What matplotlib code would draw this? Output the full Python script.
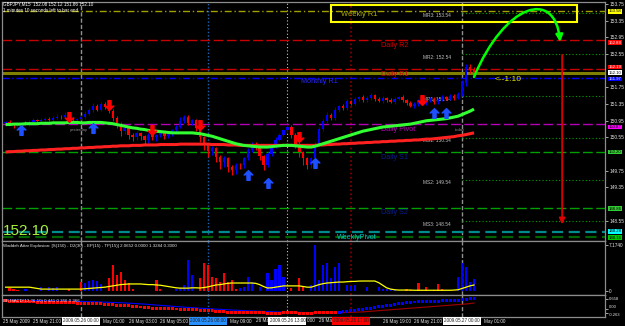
import numpy as np
import matplotlib
matplotlib.use('Agg')
import matplotlib.pyplot as plt
from matplotlib.path import Path
from matplotlib.patches import FancyArrowPatch, Rectangle
from matplotlib.ticker import FormatStrFormatter
from matplotlib.transforms import blended_transform_factory as blend

plt.rcParams['font.family'] = ['Liberation Sans', 'DejaVu Sans']

W, H = 625, 326

# GBPJPY M15, bar 0 = 2009.05.26 00:00
bars = np.arange(-19, 100)
first_open = 150.90
close = [150.92, 150.88, 150.84, 150.86, 150.90, 150.87, 150.93, 150.96, 150.94, 150.98,
         151.00, 150.97, 151.02, 151.05, 151.03, 151.08, 151.02, 150.96, 150.99,
         151.04, 151.12, 151.20, 151.30, 151.22, 151.35, 151.28, 151.18,
         151.02, 150.88, 150.70, 150.78, 150.62, 150.55, 150.66, 150.58, 150.50, 150.62,
         150.55, 150.60, 150.68, 150.58, 150.64, 150.72, 150.80, 150.95, 151.05, 150.90, 150.96, 150.78,
         150.55, 150.38, 150.22, 150.30, 150.08, 149.95, 150.05, 149.85, 149.78, 149.90, 149.88,
         150.05, 150.25, 150.40, 150.30, 150.10, 149.90, 150.15, 150.35, 150.50, 150.62, 150.72, 150.80,
         150.62, 150.40, 150.20, 150.05, 149.90, 150.05,
         150.40, 150.75, 150.95, 151.10, 151.02, 151.22, 151.30, 151.25, 151.42,
         151.36, 151.48, 151.52, 151.44, 151.50, 151.56, 151.48, 151.42, 151.50, 151.46,
         151.40, 151.48, 151.52, 151.45, 151.38, 151.30, 151.36, 151.44, 151.38, 151.42,
         151.48, 151.40, 151.46, 151.52, 151.48, 151.55, 151.50, 151.58,
         151.85, 152.25, 152.18, 152.10]
# wick lengths in hundredths of a yen
wick_up = [3, 4, 2, 5, 3, 4, 3, 6, 3, 4, 5, 3, 4, 6, 3, 8, 4, 3, 3,
           5, 6, 5, 8, 6, 5, 4, 4,
           6, 5, 4, 5, 3, 4, 5, 3, 4, 3,
           4, 3, 4, 3, 5, 4, 6, 8, 5, 4, 3, 4,
           4, 3, 4, 5, 3, 4, 5, 3, 4, 3, 4,
           3, 4, 3, 5, 4, 3, 5, 4, 6, 3, 4, 5,
           4, 3, 5, 3, 4, 3,
           5, 6, 4, 5, 3, 6, 4, 5, 6,
           4, 5, 3, 4, 5, 6, 3, 4, 5, 3, 4, 5, 3, 4, 3, 4, 5, 4, 3, 4, 5, 3, 4, 5, 3, 4, 3, 5,
           8, 6, 5, 6]
wick_dn = [4, 3, 6, 3, 5, 3, 4, 3, 5, 3, 4, 3, 5, 3, 4, 3, 4, 6, 3,
           3, 4, 3, 5, 4, 3, 4, 5,
           8, 10, 12, 6, 10, 8, 6, 10, 12, 8,
           6, 8, 5, 6, 4, 5, 4, 3, 5, 4, 6, 8,
           10, 12, 14, 8, 12, 15, 10, 14, 12, 10, 8,
           6, 5, 4, 5, 8, 12, 5, 4, 5, 4, 3, 4,
           8, 10, 12, 15, 10, 8,
           6, 5, 4, 6, 5, 4, 5, 4, 3,
           4, 3, 5, 4, 3, 4, 5, 3, 4, 5, 3, 4, 3, 5, 4, 3, 4, 5, 3, 4, 3, 4, 5, 3, 4, 3, 4, 3,
           4, 6, 8, 10]
ma_fast = [150.86, 150.86, 150.87, 150.87, 150.87, 150.88, 150.88, 150.88, 150.88, 150.89,
           150.89, 150.89, 150.90, 150.90, 150.90, 150.90, 150.91, 150.91, 150.91,
           150.90, 150.90, 150.91, 150.91, 150.91, 150.91, 150.90, 150.89, 150.88, 150.86,
           150.84, 150.82, 150.80, 150.78, 150.77, 150.75, 150.74, 150.72,
           150.71, 150.70, 150.69, 150.68, 150.67, 150.66, 150.66, 150.66, 150.66, 150.66,
           150.66, 150.65, 150.64, 150.62, 150.60, 150.58, 150.55, 150.52,
           150.49, 150.46, 150.43, 150.40, 150.38, 150.36, 150.35, 150.34, 150.33, 150.32,
           150.32, 150.32, 150.33, 150.34, 150.35, 150.36, 150.36, 150.36,
           150.35, 150.34, 150.33, 150.32, 150.32, 150.34, 150.37, 150.40, 150.43, 150.46, 150.49, 150.52,
           150.55, 150.58, 150.61, 150.64, 150.67, 150.70, 150.72, 150.74, 150.76, 150.78,
           150.80, 150.81, 150.82, 150.83, 150.84, 150.85, 150.86, 150.87,
           150.89, 150.91, 150.93, 150.95, 150.96, 150.97, 150.98, 150.99, 151.00, 151.02,
           151.04, 151.06, 151.10, 151.14, 151.18, 151.23]
ma_slow = [150.20, 150.21, 150.21, 150.22, 150.22, 150.23, 150.23, 150.24, 150.24, 150.25,
           150.25, 150.26, 150.26, 150.27, 150.27, 150.28, 150.28, 150.29, 150.29,
           150.30, 150.30, 150.31, 150.31, 150.32, 150.32, 150.33, 150.33, 150.34, 150.34,
           150.35, 150.35, 150.35, 150.36, 150.36, 150.36, 150.37, 150.37,
           150.37, 150.37, 150.38, 150.38, 150.38, 150.38, 150.38, 150.39, 150.39, 150.39,
           150.39, 150.39, 150.39, 150.39, 150.39, 150.38, 150.38, 150.38,
           150.38, 150.37, 150.37, 150.37, 150.36, 150.36, 150.36, 150.36, 150.36, 150.36,
           150.36, 150.36, 150.36, 150.36, 150.36, 150.36, 150.36, 150.36,
           150.36, 150.36, 150.36, 150.36, 150.36, 150.36, 150.37, 150.37, 150.38, 150.38, 150.39, 150.39,
           150.40, 150.40, 150.41, 150.41, 150.42, 150.42, 150.43, 150.43, 150.44, 150.44,
           150.45, 150.45, 150.46, 150.46, 150.47, 150.47, 150.48, 150.48,
           150.49, 150.49, 150.50, 150.51, 150.51, 150.52, 150.53, 150.54, 150.55, 150.56,
           150.57, 150.59, 150.60, 150.62, 150.64, 150.66]

arrow_up_bar = [-15, 3, 42, 47, 59, 89, 92]
arrow_up_price = [150.73, 150.78, 149.65, 149.46, 149.94, 151.14, 151.14]
arrow_dn_bar = [-3, 7, 18, 30, 55, 86]
arrow_dn_price = [151.04, 151.33, 150.73, 150.85, 150.56, 151.45]

daily_names = ['Daily R2', 'Daily R1', 'Daily Pivot', 'Daily S1', 'Daily S2']
daily_vals = [152.88, 152.19, 150.87, 150.20, 148.86]
mid_names = ['MR3', 'MR2', 'MR1', 'MS1', 'MS2', 'MS3']
mid_vals = [153.54, 152.54, 151.54, 150.54, 149.54, 148.54]
weekly_r1 = 153.58
weekly_pivot = 148.28
weekly_s = 148.16
monthly_r1 = 151.97
bid = 152.10

# price scale labels (those hidden behind the level boxes are left out)
price_ticks = [153.75, 153.35, 152.95, 152.55, 151.75, 151.35, 150.95, 150.55,
               149.75, 149.35, 148.55]

box_vals = [153.58, 152.88, 152.19, 152.10, 151.97, 150.87, 150.20, 148.86, 148.28, 148.16]
box_fc = ['#ffff00', '#ff0000', '#ff0000', '#ffffff', '#0000ff', '#ff00ff',
          '#32cd32', '#32cd32', '#00ffff', '#00c800']
box_tc = ['black', 'white', 'white', 'black', 'white', 'black',
          'black', 'black', 'black', 'black']
# small vertical nudges (price units) so the stacked boxes stay readable
box_shift = [0, -0.06, 0.05, 0, -0.02, -0.07, 0, -0.02, 0.02, -0.01]

# Waddah Attar Explosion
wae_up = [0, 0, 0, 0, 0, 0.3, 0, 0, 0, 0.6, 0, 0.6, 0.45, 0.6, 0, 0, 0, 0, 0,
          0, 1.25, 1.56, 1.7, 1.56, 1.1, 0, 0, 0, 0, 0, 0, 0, 0, 0, 0, 0, 0,
          0, 0, 0, 0, 0, 0, 0.3, 0.5, 0.94, 4.8, 2.5, 0, 0, 0, 0, 0, 0, 0,
          0, 0, 0, 0, 0.47, 0.6, 2.2, 1.4, 0, 0.6, 0, 2.8, 1.7, 3.4, 4.05, 2.2, 0, 0,
          0, 0, 0, 0, 0.94, 7.17, 1.7, 4.05, 4.4, 2.0, 3.7, 4.4,
          0, 0.94, 0.8, 0.94, 0, 0, 0.6, 0, 0, 0.6, 0.3, 0.3, 0.3, 0.3, 0, 0, 0, 0,
          0, 0, 0, 0, 0, 0, 0, 0, 0, 0, 0, 2.2, 4.4, 3.7, 1.4, 1.9]
wae_dn = [0, 0.47, 0.3, 0.2, 0, 0, 0, 0, 0, 0, 0, 0, 0, 0, 0, 0, 0.3, 0, 0,
          1.4, 0, 0, 0, 0, 0, 0, 2.0, 4.05, 2.5, 3.0, 1.7, 1.25, 0.3, 0, 0, 0, 0,
          0, 1.7, 0.3, 0, 0, 0, 0, 0, 0, 0, 0, 0, 2.0, 4.4, 4.05, 2.2, 2.0, 1.4,
          2.8, 1.4, 1.7, 0.3, 0, 0, 0, 0, 0, 0, 0, 0, 0, 0, 0, 0, 0, 0.47,
          0, 2.0, 0.6, 0, 0, 0, 0, 0, 0, 0, 0, 0,
          0, 0, 0, 0, 0, 0, 0, 0, 0, 0, 0, 0, 0, 0, 0, 0, 0.3, 0.15,
          0, 1.25, 0.15, 0.6, 0, 0.15, 1.1, 0.3, 0, 0, 0, 0, 0, 0, 0, 0]
wae_line = [0.6, 0.6, 0.6, 0.6, 0.6, 0.6, 0.6, 0.5, 0.4, 0.3, 0.3, 0.3, 0.3, 0.3, 0.3, 0.3, 0.3, 0.3, 0.3,
            0.3, 0.35, 0.4, 0.45, 0.5, 0.55, 0.6, 0.7, 0.8, 0.9, 1.0, 1.05, 1.1, 1.1, 1.1, 1.1, 1.05, 1.0,
            1.0, 0.95, 0.9, 0.8, 0.7, 0.6, 0.5, 0.45, 0.45, 0.45, 0.5, 0.5, 0.47, 0.55, 0.65, 0.8, 0.94, 1.0,
            1.1, 1.2, 1.25, 1.25, 1.25, 1.25, 1.25, 1.25, 1.2, 1.0, 0.7, 0.47, 0.5, 0.6, 0.7, 0.8, 0.8, 0.8,
            0.8, 0.8, 0.7, 0.6, 0.6, 0.8, 1.0, 1.15, 1.25, 1.3, 1.35, 1.4,
            1.4, 1.45, 1.5, 1.5, 1.55, 1.56, 1.56, 1.56, 1.56, 1.3, 0.9, 0.5, 0.3, 0.2, 0.15, 0.15, 0.15, 0.15,
            0.12, 0.12, 0.12, 0.12, 0.12, 0.12, 0.12, 0.12, 0.12, 0.12, 0.15, 0.2, 0.4, 0.6, 0.8, 0.94]

# BB MACD
macd_main = [0.53, 0.52, 0.51, 0.50, 0.49, 0.48, 0.47, 0.46, 0.45, 0.45, 0.44, 0.43, 0.43, 0.42, 0.41, 0.41, 0.40, 0.40, 0.39,
             0.39, 0.38, 0.37, 0.36, 0.35, 0.34, 0.32, 0.30, 0.28, 0.26, 0.24, 0.22, 0.20, 0.18, 0.15, 0.13, 0.10, 0.08,
             0.06, 0.05, 0.04, 0.03, 0.02, 0.01, 0.00, -0.01, -0.02, -0.03, -0.04, -0.05, -0.07, -0.08, -0.10, -0.12, -0.14, -0.16,
             -0.18, -0.20, -0.21, -0.22, -0.23, -0.24, -0.25, -0.25, -0.26, -0.26, -0.26, -0.27, -0.27, -0.27, -0.27, -0.26, -0.26, -0.26,
             -0.26, -0.27, -0.27, -0.27, -0.27, -0.26, -0.25, -0.25, -0.25, -0.25, -0.24, -0.22,
             -0.18, -0.15, -0.12, -0.09, -0.06, -0.02, 0.02, 0.06, 0.10, 0.14, 0.18, 0.22, 0.26, 0.30, 0.34, 0.38, 0.42, 0.44,
             0.46, 0.47, 0.48, 0.49, 0.50, 0.51, 0.52, 0.53, 0.54, 0.55, 0.56, 0.57, 0.60, 0.64, 0.68, 0.72]
macd_sig = [0.59, 0.59, 0.58, 0.58, 0.57, 0.57, 0.56, 0.56, 0.55, 0.55, 0.54, 0.54, 0.53, 0.53, 0.52, 0.52, 0.51, 0.51, 0.50,
            0.50, 0.49, 0.48, 0.48, 0.47, 0.46, 0.45, 0.44, 0.43, 0.42, 0.41, 0.40, 0.38, 0.37, 0.35, 0.34, 0.32, 0.30,
            0.28, 0.26, 0.24, 0.22, 0.20, 0.18, 0.16, 0.14, 0.12, 0.10, 0.09, 0.07, 0.05, 0.04, 0.02, 0.01, -0.01, -0.02,
            -0.04, -0.05, -0.07, -0.08, -0.09, -0.11, -0.12, -0.13, -0.14, -0.15, -0.16, -0.17, -0.18, -0.19, -0.20, -0.20, -0.21, -0.21,
            -0.22, -0.22, -0.23, -0.23, -0.24, -0.24, -0.24, -0.24, -0.24, -0.24, -0.24, -0.24,
            -0.24, -0.23, -0.22, -0.21, -0.20, -0.19, -0.17, -0.15, -0.13, -0.11, -0.09, -0.07, -0.05, -0.03, -0.01, 0.01, 0.03, 0.05,
            0.07, 0.09, 0.11, 0.13, 0.15, 0.17, 0.19, 0.21, 0.23, 0.25, 0.27, 0.29, 0.31, 0.33, 0.36, 0.39]

# time scale: visible parts of the labels (the highlighted boxes hide the rest)
time_ticks = [-19.6, -12, 5.5, 12, 20, 37.5, 44, 57, 60, 76, 84, 101.5]
time_labels = ['25 May 2009', '25 May 21:00', 'May 01:00', '26 May 03:00', '26 May 05:00',
               'May 09:00', '26 Ma', '0:00', '26 Ma', '26 May 19:00', '26 May 21:00', 'May 01:00']
sep_ticks = [0, 32, 52, 68, 96]
sep_labels = ['2009.05.26 00:00', '2009.05.26 08:00', '2009.05.26 13:00',
              '2009.05.26 17:00', '2009.05.27 00:00']
sep_fc = ['#ffffff', '#2890ff', '#ffffff', '#ff0000', '#ffffff']


def box(top, bottom, left=2, right=605):
    return [left / W, 1 - bottom / H, (right - left) / W, (bottom - top) / H]


fig = plt.figure(figsize=(W / 100, H / 100), dpi=100, facecolor='black')
ax = fig.add_axes(box(2, 241))
ax_w = fig.add_axes(box(241, 295), sharex=ax)
ax_m = fig.add_axes(box(295, 317), sharex=ax)
for a in (ax, ax_w, ax_m):
    a.set_facecolor('black')
    for s in a.spines.values():
        s.set_color('#8c8c8c')
        s.set_linewidth(0.9)
    a.tick_params(axis='x', bottom=False, labelbottom=False)
    a.yaxis.tick_right()
    a.tick_params(axis='y', colors='#e6e6e6', labelsize=3.4, length=2, width=0.5, pad=1)
    # separators / session lines
    a.axvline(0, color='#909090', lw=1, ls=(0, (3, 1.5)), zorder=1)
    a.axvline(96, color='#909090', lw=1, ls=(0, (3, 1.5)), zorder=1)
    a.axvline(32, color='#1e64b4', lw=1, ls=(0, (1, 1.5)), zorder=1)
    a.axvline(52, color='#c8c8c8', lw=0.8, ls=(0, (1, 2)), zorder=1)
    a.axvline(68, color='#8c0000', lw=1.2, ls=(0, (1, 1.5)), zorder=1)

ax.set_xlim(-19.9, 132.0)
ax.set_ylim(148.067, 153.798)
ax.set_yticks(price_ticks)
ax.yaxis.set_major_formatter(FormatStrFormatter('%.2f'))

# level lines
ax.axhline(weekly_r1, color='#a0a000', lw=1, ls=(0, (5, 2, 1, 2)), zorder=2)
line_cols = ['#c80000', '#c80000', '#b400b4', '#00a000', '#00a000']
for v, lc in zip(daily_vals, line_cols):
    ax.axhline(v, color=lc, lw=1, ls=(0, (7, 2.5)), zorder=2)
ax.axhline(bid, color='#808000', lw=2.2, zorder=2)
ax.axhline(monthly_r1, color='#0000ff', lw=1, ls=(0, (5, 2, 1, 2)), zorder=2)
ax.axhline(weekly_pivot, color='#008c8c', lw=1.6, ls=(0, (5, 2.5)), zorder=2)
ax.axhline(weekly_s, color='#006400', lw=1.6, ls=(0, (5, 2.5)), zorder=2)
ax.hlines(mid_vals, 96, 132, colors='#00a000', lw=0.8, linestyles=(0, (1, 2)), zorder=2)

# candles
c = np.array(close)
o = np.concatenate([[first_open], c[:-1]])
hi = np.maximum(o, c) + np.array(wick_up) / 100
lo = np.minimum(o, c) - np.array(wick_dn) / 100
col = np.where(c >= o, '#0000ff', '#ff0000')
ax.vlines(bars, lo, hi, colors=col, lw=0.7, zorder=4)
ax.bar(bars, np.maximum(np.abs(c - o), 0.012), bottom=np.minimum(o, c), width=0.6,
       color=col, zorder=4)

ax.plot(bars, ma_slow, color='#ff2020', lw=2.2, zorder=5, solid_capstyle='butt')
ax.plot(bars, ma_fast, color='#32ff32', lw=2.2, zorder=5, solid_capstyle='butt')

up_path = Path([(0, 1), (0.9, 0.1), (0.32, 0.25), (0.32, -1), (-0.32, -1),
                (-0.32, 0.25), (-0.9, 0.1), (0, 1)], closed=True)
dn_path = Path(up_path.vertices * np.array([1, -1]), closed=True)
ax.plot(arrow_up_bar, arrow_up_price, ls='none', marker=up_path, ms=7, color='#1e50ff',
        mec='#1e50ff', zorder=6)
ax.plot(arrow_dn_bar, arrow_dn_price, ls='none', marker=dn_path, ms=7, color='#ff0000',
        mec='#ff0000', zorder=6)

# level labels
txt_cols = ['#d00000', '#d00000', '#c000c0', '#0a1e8c', '#0a1e8c']
for name, v, tc in zip(daily_names, daily_vals, txt_cols):
    ax.text(75.6, v - 0.12, name, color=tc, fontsize=5.2, va='center', zorder=3)
for name, v in zip(mid_names, mid_vals):
    ax.text(86.1, v - 0.07, f'{name}: {v:.2f}', color='#c0c0c0', fontsize=3.5,
            va='center', zorder=3)
ax.text(55.4, monthly_r1 - 0.09, 'Monthly R1', color='#2828ff', fontsize=5.2, va='center', zorder=3)
ax.text(64.5, weekly_pivot - 0.12, 'WeeklyPivot', color='#00c8c8', fontsize=5.2, va='center', zorder=3)
ax.text(65.5, 153.49, 'Weekly R1', color='#b0b000', fontsize=5.4, va='center', zorder=8)
ax.add_patch(Rectangle((63.0, 153.32), 61.9, 0.41, fill=False, ec='#ffff00', lw=1.5,
                       zorder=7, clip_on=False))
ax.text(104.3, 151.95, '<--1:10', color='#e8e800', fontsize=6, va='center', zorder=8)
ax.text(-2.8, 150.73, 'yesterday', color='#909090', fontsize=3, va='center', zorder=3)
ax.text(94.2, 150.73, 'today', color='#909090', fontsize=3, va='center', zorder=3)

# arrows drawn on the chart
ax.annotate('', xy=(121.2, 148.47), xytext=(121.2, 152.53),
            arrowprops=dict(arrowstyle='-|>', color='#e00000', lw=1.2,
                            mutation_scale=9, shrinkA=0, shrinkB=0), zorder=8)
curve = Path([(99.0, 152.00), (106.8, 153.77), (119.4, 154.13), (120.7, 152.84)],
             [Path.MOVETO, Path.CURVE4, Path.CURVE4, Path.CURVE4])
ax.add_patch(FancyArrowPatch(path=curve, arrowstyle='-|>', mutation_scale=10,
                             color='#00ff00', lw=1.8, zorder=8, clip_on=False))

# price boxes on the right scale
rb = blend(ax.transAxes, ax.transData)
for v, dv, fc, tc in zip(box_vals, box_shift, box_fc, box_tc):
    ax.text(1.006, v + dv, f'{v:.2f}', transform=rb, fontsize=3.1, color=tc, va='center',
            ha='left', bbox=dict(boxstyle='square,pad=0.1', fc=fc, ec='none'), zorder=10)

# header + big price
fig.text(3 / W, 1 - 4 / H, 'GBPJPY,M15  152.08 152.12 151.86 152.10', color='white',
         fontsize=3.3, va='center')
fig.text(3 / W, 1 - 10 / H, '1 minutes 10 seconds left to bar end', color='white',
         fontsize=3.3, va='center')
fig.text(3 / W, 1 - 235 / H, '152.10', color='#a6f03c', fontsize=11, va='baseline')

# Waddah Attar Explosion panel
ax_w.set_ylim(-0.62, 7.80)
ax_w.bar(bars, wae_up, width=0.55, color='#0000ff', zorder=3)
ax_w.bar(bars, wae_dn, width=0.55, color='#ff0000', zorder=3)
ax_w.plot(bars, wae_line, color='#ffff00', lw=0.9, zorder=4)
ax_w.set_yticks([0, 7.174])
ax_w.set_yticklabels(['0', '7.1740'])
fig.text(3 / W, 1 - 246 / H,
         'Waddah Attar Explosion: [S(150) - D2(30) - EP(15) - TP(15)] 2.0652 0.0000 1.3284 0.3000',
         color='#e6e6e6', fontsize=3.2, va='center')

# MACD panel
ax_m.set_ylim(-0.526, 0.92)
mm = np.array(macd_main)
sg = np.array(macd_sig)
below = mm <= sg
ax_m.plot(bars, np.where(below, sg, np.nan), color='#0000ff', lw=0.8, zorder=3)
ax_m.plot(bars, np.where(~below, sg, np.nan), color='#a00000', lw=0.8, zorder=3)
ax_m.scatter(bars, mm, s=4.5, marker='s', c=np.where(below, '#ff0000', '#0000ff'),
             linewidths=0, zorder=4)
ax_m.set_yticks([0.658, 0, -0.263])
ax_m.set_yticklabels(['0.658', '0.00', '-0.263'])
ax_m.tick_params(axis='y', labelsize=3.0)
for lab, va in zip(ax_m.get_yticklabels(), ['center', 'bottom', 'top']):
    lab.set_va(va)
fig.text(3 / W, 1 - 301 / H, 'BB MACD(12,26,10) 0.441 0.366 0.366', color='#e6e6e6',
         fontsize=3.2, va='center', zorder=5)

# time axis
tb = blend(ax_m.transData, fig.transFigure)
ty = 1 - 321 / H
for t, lab in zip(time_ticks, time_labels):
    ax_m.text(t, ty, lab, transform=tb, fontsize=3.3, color='#e6e6e6', va='center',
              ha='left', clip_on=False)
for t, lab, fc in zip(sep_ticks, sep_labels, sep_fc):
    ax_m.text(t, ty, lab, transform=tb, fontsize=3.3, color='#202020', va='center',
              ha='center', clip_on=False, zorder=10,
              bbox=dict(boxstyle='square,pad=0.25', fc=fc, ec='none'))

fig.savefig('out.png', dpi=100, facecolor='black')
